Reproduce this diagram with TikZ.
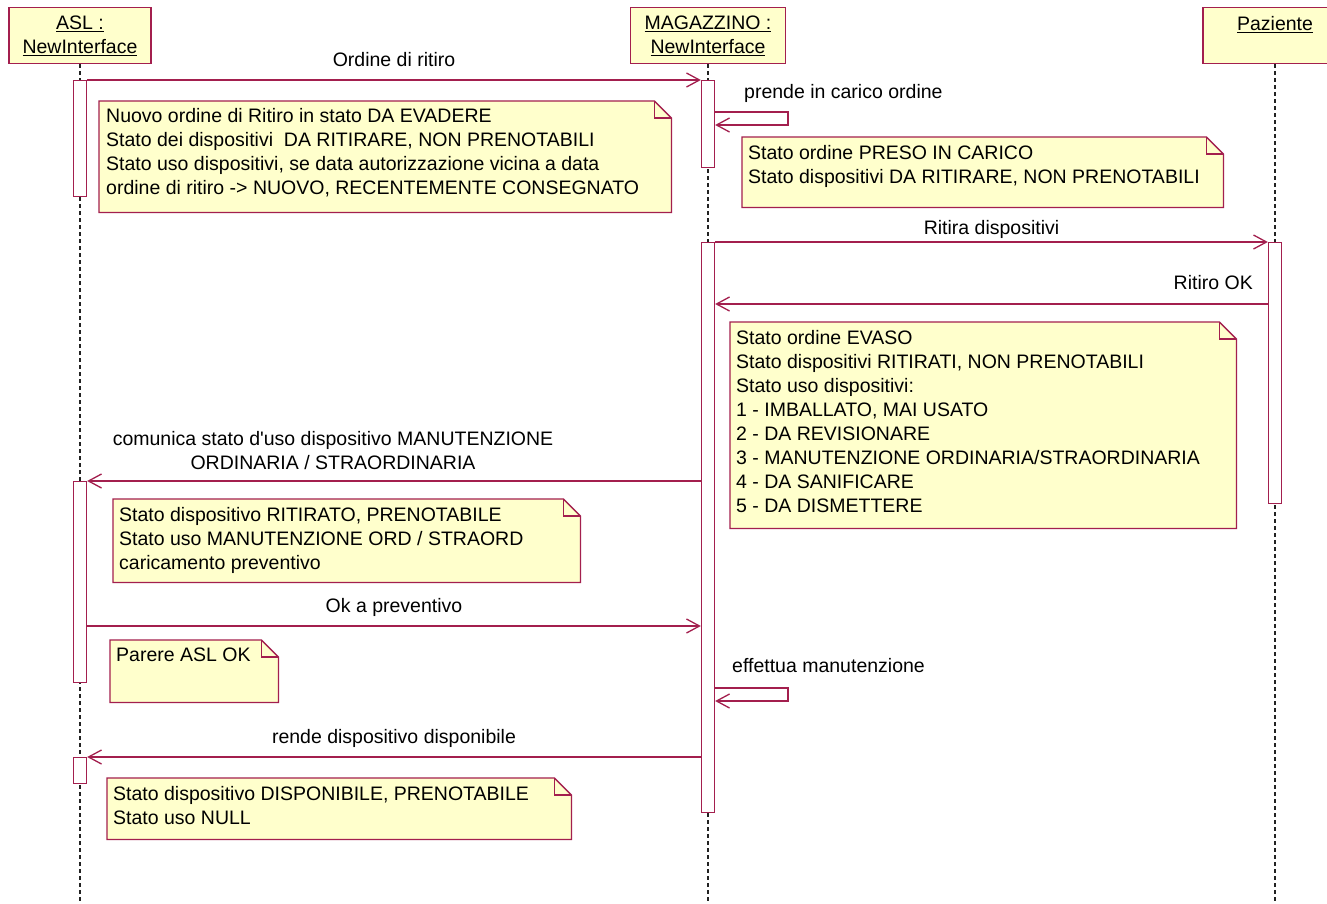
\documentclass[tikz,border=0pt]{standalone}
\usepackage{fontspec}
\setmainfont{Liberation Sans}
\usepackage{tikz}
\usetikzlibrary{positioning, arrows.meta, calc}
\definecolor{seqLine}{HTML}{A31F4E}
\definecolor{noteFill}{HTML}{FFFFCC}
\definecolor{lifeDash}{HTML}{222222}

\begin{document}
\begin{tikzpicture}[x=1pt, y=-1pt,
        every node/.style={font={\fontsize{19.5}{24}\selectfont}, inner sep=0pt, text=black},
        headbox/.style={rectangle, draw=seqLine, fill=noteFill, line width=1.3pt,
                        minimum width=142pt, minimum height=56pt, align=center, anchor=north},
        actbar/.style={rectangle, draw=seqLine, fill=white, line width=1.3pt,
                       minimum width=13pt, anchor=north},
        lifeline/.style={lifeDash, line width=1.3pt, dash pattern=on 4pt off 3pt},
        noteshape/.style={rectangle, anchor=north west},
        notebox/.style={draw=seqLine, fill=noteFill, line width=1.3pt},
        notetext/.style={align=left},
        msg/.style={-{Straight Barb[length=13pt, width=14pt]}, seqLine, line width=1.3pt},
        lbl/.style={text depth=0pt, text=black},
      ]
        \fill[white] (0,0) rectangle (1327,903);
        \useasboundingbox (0,0) rectangle (1327,903);
        \clip (0,0) rectangle (1327,903);

        % Lifeline heads
        \node[headbox] (aslH) at (80,7) {\underline{ASL :}\\\underline{NewInterface}};
        \node[headbox, minimum width=155pt] (magH) at (708,7) {\underline{MAGAZZINO :}\\\underline{NewInterface}};
        \node[headbox, minimum width=144pt] (pazH) at (1275,7) {\underline{Paziente}\\\mbox{}};

        % Lifelines
        \coordinate (aslEnd) at (80,903);
        \coordinate (magEnd) at (708,903);
        \coordinate (pazEnd) at (1275,903);
        \draw[lifeline] (aslH.south) -- (aslEnd);
        \draw[lifeline] (magH.south) -- (magEnd);
        \draw[lifeline] (pazH.south) -- (pazEnd);

        % Activation bars
        \node[actbar, minimum height=116pt] (aslA) at (80,80) {};
        \node[actbar, minimum height=201pt] (aslB) at (80,481) {};
        \node[actbar, minimum height=26pt]  (aslC) at (80,757) {};
        \node[actbar, minimum height=87pt]  (magA) at (708,80) {};
        \node[actbar, minimum height=570pt] (magB) at (708,242) {};
        \node[actbar, minimum height=261pt] (pazA) at (1275,242) {};

        % Notes
        \node[noteshape, minimum width=572pt, minimum height=111pt] (noteA) at (99,101) {};
        \node[noteshape, minimum width=481pt, minimum height=70pt]  (noteB) at (742,137) {};
        \node[noteshape, minimum width=506pt, minimum height=206pt] (noteC) at (730,322) {};
        \node[noteshape, minimum width=467pt, minimum height=83pt]  (noteD) at (113,499) {};
        \node[noteshape, minimum width=168pt, minimum height=62pt]  (noteE) at (110,640) {};
        \node[noteshape, minimum width=464pt, minimum height=61pt]  (noteF) at (107,778) {};
        \foreach \n in {noteA,noteB,noteC,noteD,noteE,noteF} {
          \draw[notebox] (\n.north west) -- ([xshift=-17pt]\n.north east)
            -- ([yshift=-17pt]\n.north east) -- (\n.south east) -- (\n.south west) -- cycle;
          \draw[notebox, fill=none] ([xshift=-17pt]\n.north east) |- ([yshift=-17pt]\n.north east);
        }

        \node[notetext, below right=7pt and 7pt of noteA.north west] (txtA)
          {Nuovo ordine di Ritiro in stato DA EVADERE\\
           Stato dei dispositivi~ DA RITIRARE, NON PRENOTABILI\\
           Stato uso dispositivi, se data autorizzazione vicina a data\\
           ordine di ritiro -> NUOVO, RECENTEMENTE CONSEGNATO};
        \node[notetext, below right=8pt and 6pt of noteB.north west] (txtB)
          {Stato ordine PRESO IN CARICO\\
           Stato dispositivi DA RITIRARE, NON PRENOTABILI};
        \node[notetext, below right=8pt and 6pt of noteC.north west] (txtC)
          {Stato ordine EVASO\\
           Stato dispositivi RITIRATI, NON PRENOTABILI\\
           Stato uso dispositivi:\\
           1 - IMBALLATO, MAI USATO\\
           2 - DA REVISIONARE\\
           3 - MANUTENZIONE ORDINARIA/STRAORDINARIA\\
           4 - DA SANIFICARE\\
           5 - DA DISMETTERE};
        \node[notetext, below right=8pt and 6pt of noteD.north west] (txtD)
          {Stato dispositivo RITIRATO, PRENOTABILE\\
           Stato uso MANUTENZIONE ORD / STRAORD\\
           caricamento preventivo};
        \node[notetext, below right=8pt and 6pt of noteE.north west] (txtE) {Parere ASL OK};
        \node[notetext, below right=8pt and 6pt of noteF.north west] (txtF)
          {Stato dispositivo DISPONIBILE, PRENOTABILE\\
           Stato uso NULL};

        % Messages
        \draw[msg] (aslA.north east) -- node[lbl, above=13pt] (lblOrd) {Ordine di ritiro} (magA.north west);

        \coordinate (selfA1) at (788,112);
        \coordinate (selfA2) at (788,125);
        \draw[msg] (magA.east |- selfA1) -- (selfA1) -- (selfA2) -- (magA.east |- selfA2);
        \node[lbl, anchor=south west] (lblPrende) at (744,99) {prende in carico ordine};

        \draw[msg] (magB.north east) -- node[lbl, above=7pt] (lblRitira) {Ritira dispositivi} (pazA.north west);

        \coordinate (okRit) at (1000,304);
        \draw[msg] (pazA.west |- okRit) -- (magB.east |- okRit);
        \node[lbl, anchor=south east] (lblRitOk) at (1253,290) {Ritiro OK};

        \draw[msg] (magB.west |- aslB.north) -- (aslB.north east);
        \node[lbl, align=center, anchor=south] (lblCom) at (333,470)
          {comunica stato d\textquotesingle uso dispositivo MANUTENZIONE\\ORDINARIA / STRAORDINARIA};

        \coordinate (okPrev) at (400,626);
        \draw[msg] (aslB.east |- okPrev) -- node[lbl, above=13pt] (lblPrev) {Ok a preventivo} (magB.west |- okPrev);

        \coordinate (selfB1) at (788,688);
        \coordinate (selfB2) at (788,701);
        \draw[msg] (magB.east |- selfB1) -- (selfB1) -- (selfB2) -- (magB.east |- selfB2);
        \node[lbl, anchor=south west] (lblManut) at (732,673) {effettua manutenzione};

        \draw[msg] (magB.west |- aslC.north) -- node[lbl, above=13pt] (lblRende) {rende dispositivo disponibile} (aslC.north east);
      \end{tikzpicture}
\end{document}
